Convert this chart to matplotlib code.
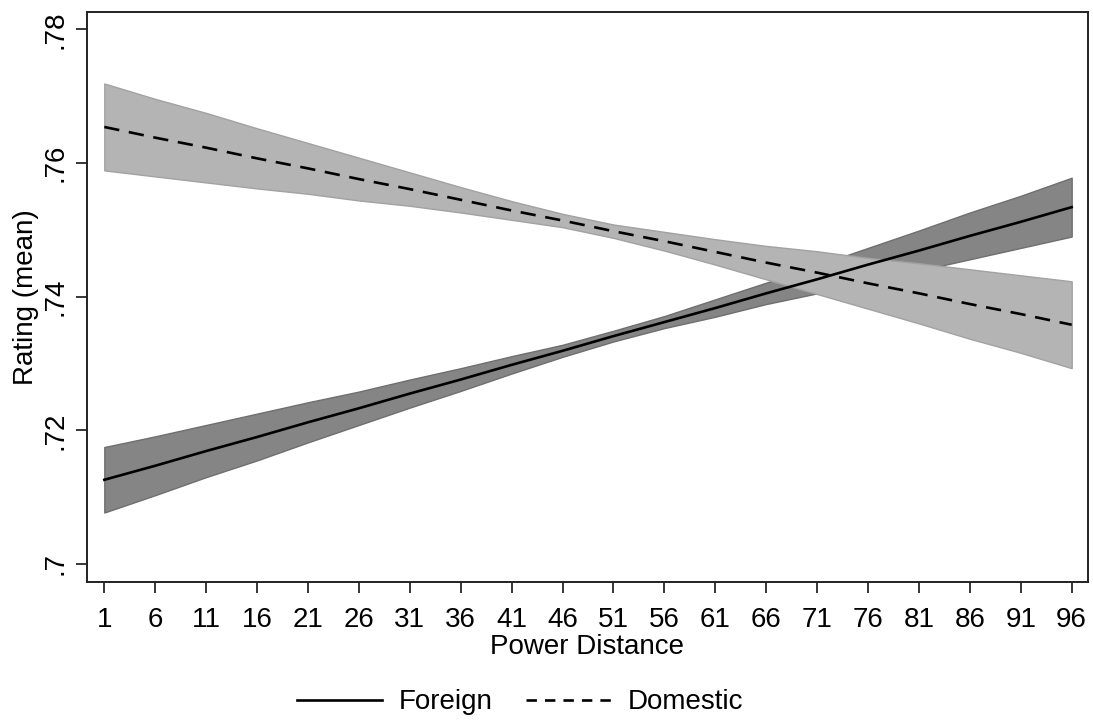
import matplotlib
matplotlib.use("Agg")
import matplotlib.pyplot as plt

# --- veriler (grafikten okunan tahmini değerler) ---
power_distance = [1, 6, 11, 16, 21, 26, 31, 36, 41, 46, 51, 56, 61, 66, 71, 76, 81, 86, 91, 96]

foreign_mean = [0.7126, 0.7147, 0.7169, 0.7190, 0.7212, 0.7233, 0.7255, 0.7276, 0.7298, 0.7319,
                0.7341, 0.7362, 0.7383, 0.7405, 0.7426, 0.7448, 0.7469, 0.7491, 0.7512, 0.7534]
foreign_lo = [0.7077, 0.7103, 0.7130, 0.7155, 0.7182, 0.7208, 0.7234, 0.7259, 0.7285, 0.7310,
              0.7333, 0.7353, 0.7370, 0.7389, 0.7405, 0.7423, 0.7439, 0.7456, 0.7473, 0.7490]
foreign_hi = [0.7175, 0.7191, 0.7208, 0.7225, 0.7242, 0.7258, 0.7276, 0.7293, 0.7311, 0.7328,
              0.7349, 0.7371, 0.7396, 0.7421, 0.7447, 0.7473, 0.7499, 0.7526, 0.7551, 0.7578]

domestic_mean = [0.7654, 0.7638, 0.7623, 0.7607, 0.7592, 0.7576, 0.7561, 0.7545, 0.7529, 0.7514,
                 0.7498, 0.7483, 0.7467, 0.7451, 0.7436, 0.7420, 0.7405, 0.7389, 0.7374, 0.7358]
domestic_lo = [0.7589, 0.7580, 0.7571, 0.7562, 0.7554, 0.7544, 0.7536, 0.7526, 0.7515, 0.7504,
               0.7488, 0.7469, 0.7448, 0.7426, 0.7404, 0.7382, 0.7360, 0.7337, 0.7316, 0.7293]
domestic_hi = [0.7719, 0.7696, 0.7675, 0.7652, 0.7630, 0.7608, 0.7586, 0.7564, 0.7543, 0.7524,
               0.7508, 0.7497, 0.7486, 0.7476, 0.7468, 0.7458, 0.7450, 0.7441, 0.7432, 0.7423]

y_ticks = [0.70, 0.72, 0.74, 0.76, 0.78]
y_ticklabels = [".7", ".72", ".74", ".76", ".78"]

plt.rcParams["font.family"] = ["Liberation Sans", "DejaVu Sans"]
plt.rcParams["lines.scale_dashes"] = False

fig = plt.figure(figsize=(10.93, 7.24), dpi=100)
ax = fig.add_axes([0.0796, 0.1961, 0.9158, 0.7873])

# güven bantları
ax.fill_between(power_distance, foreign_lo, foreign_hi, facecolor="#858585",
                edgecolor="#6f6f6f", linewidth=1.0, zorder=1)
ax.fill_between(power_distance, domestic_lo, domestic_hi, facecolor="#b4b4b4",
                edgecolor="#a2a2a2", linewidth=1.0, zorder=2)

# ortalama çizgileri
ax.plot(power_distance, foreign_mean, color="black", linewidth=1.9, label="Foreign", zorder=3)
ax.plot(power_distance, domestic_mean, color="black", linewidth=1.9, dashes=(11, 7),
        label="Domestic", zorder=4)

ax.set_xlim(-0.7, 97.6)
ax.set_ylim(0.6973, 0.7826)
ax.set_xticks(power_distance)
ax.set_xticklabels([str(v) for v in power_distance])
ax.set_yticks(y_ticks)
ax.set_yticklabels(y_ticklabels, rotation=90, va="center")

ax.tick_params(axis="both", labelsize=20, length=8, width=1.1, colors="black")
ax.tick_params(axis="x", pad=10)
ax.tick_params(axis="y", pad=5)
for s in ax.spines.values():
    s.set_linewidth(1.4)
    s.set_color("#222222")

ax.set_xlabel("Power Distance", fontsize=20, labelpad=1)
ax.set_ylabel("Rating (mean)", fontsize=20, labelpad=3)

leg = fig.legend(loc="center", bbox_to_anchor=(0.476, 0.030), ncol=2, frameon=False,
                 fontsize=20, handlelength=3.06, handletextpad=0.61, columnspacing=1.2)
for h in leg.get_lines():
    h.set_linewidth(1.9)
leg.get_lines()[1].set_dashes((7.5, 5.8))

fig.savefig("out.png", dpi=100)
